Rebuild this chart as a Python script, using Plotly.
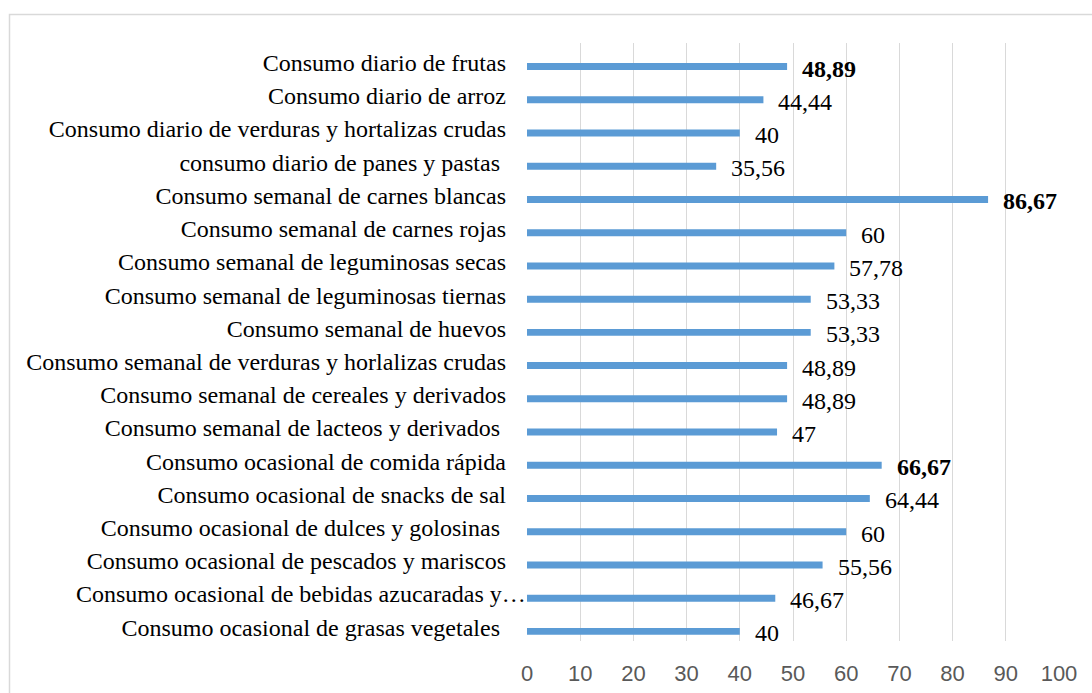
import plotly.graph_objects as go

categories = [
    "Consumo diario de frutas",
    "Consumo diario de arroz",
    "Consumo diario de verduras y hortalizas crudas",
    "consumo diario de panes y pastas\u00a0",
    "Consumo semanal de carnes blancas",
    "Consumo semanal de carnes rojas",
    "Consumo semanal de leguminosas secas",
    "Consumo semanal de leguminosas tiernas",
    "Consumo semanal de huevos",
    "Consumo semanal de verduras y horlalizas crudas",
    "Consumo semanal de cereales y derivados",
    "Consumo semanal de lacteos y derivados\u00a0",
    "Consumo ocasional de comida rápida",
    "Consumo ocasional de snacks de sal",
    "Consumo ocasional de dulces y golosinas\u00a0",
    "Consumo ocasional de pescados y mariscos",
    "Consumo ocasional de bebidas azucaradas y…",
    "Consumo ocasional de grasas vegetales\u00a0",
]
values = [48.89, 44.44, 40, 35.56, 86.67, 60, 57.78, 53.33, 53.33,
          48.89, 48.89, 47, 66.67, 64.44, 60, 55.56, 46.67, 40]
value_labels = ["48,89", "44,44", "40", "35,56", "86,67", "60", "57,78", "53,33", "53,33",
                "48,89", "48,89", "47", "66,67", "64,44", "60", "55,56", "46,67", "40"]
bold_labels = [True, False, False, False, True, False, False, False, False,
               False, False, False, True, False, False, False, False, False]
truncated_index = 16  # label clipped by the axis in the original (ends at the axis)
x_ticks = [0, 10, 20, 30, 40, 50, 60, 70, 80, 90, 100]

W, H = 1092, 693
ML, MR, MT, MB = 527, 33, 43, 52
PW = W - ML - MR
PH = H - MT - MB

fig = go.Figure()
fig.add_trace(go.Bar(
    x=values, y=categories, orientation="h",
    marker=dict(color="#5B9BD5", line=dict(width=0)),
    width=0.21, hoverinfo="skip",
))

for v, lab, b, c in zip(values, value_labels, bold_labels, categories):
    fig.add_annotation(
        x=v, y=c, xref="x", yref="y",
        text=f"<b>{lab}</b>" if b else lab,
        showarrow=False, xanchor="left", yanchor="middle",
        xshift=13, yshift=-2,
        font=dict(family="Liberation Serif", size=24, color="#000000"),
    )

# the truncated category label sits flush against the axis
fig.add_annotation(
    x=0, y=categories[truncated_index], xref="paper", yref="y",
    text=categories[truncated_index], showarrow=False,
    xanchor="right", yanchor="middle", xshift=1, yshift=4,
    font=dict(family="Liberation Serif", size=24, color="#000000"),
)

tick_text = [("" if i == truncated_index else c) for i, c in enumerate(categories)]

# outer chart border
fig.add_shape(type="rect", xref="paper", yref="paper",
              x0=(9.5 - ML) / PW, x1=(W + 10 - ML) / PW,
              y0=(H - (H + 10) - MB) / PH, y1=(H - 14.5 - MB) / PH,
              line=dict(color="#D9D9D9", width=1.5), fillcolor="rgba(0,0,0,0)",
              layer="below")

fig.update_layout(
    width=W, height=H,
    margin=dict(l=ML, r=MR, t=MT, b=MB, autoexpand=False),
    paper_bgcolor="white", plot_bgcolor="white",
    showlegend=False,
    xaxis=dict(
        range=[0, 100], tickvals=x_ticks, ticktext=[str(t) for t in x_ticks],
        showgrid=True, gridcolor="#D9D9D9", gridwidth=1.3,
        zeroline=False, showline=False, ticks="",
        tickfont=dict(family="Liberation Sans", size=22, color="#595959"),
        ticklabelstandoff=17,
    ),
    yaxis=dict(
        type="category", categoryorder="array", categoryarray=categories,
        tickvals=categories, ticktext=tick_text,
        range=[17.29, -0.71],
        showgrid=False, zeroline=False, showline=False, ticks="",
        tickfont=dict(family="Liberation Serif", size=24, color="#000000"),
        ticklabelstandoff=20, ticklabelshift=4,
    ),
)

fig.write_html("out.html", config={"displayModeBar": False},
               post_script="document.body.style.margin='0';")
